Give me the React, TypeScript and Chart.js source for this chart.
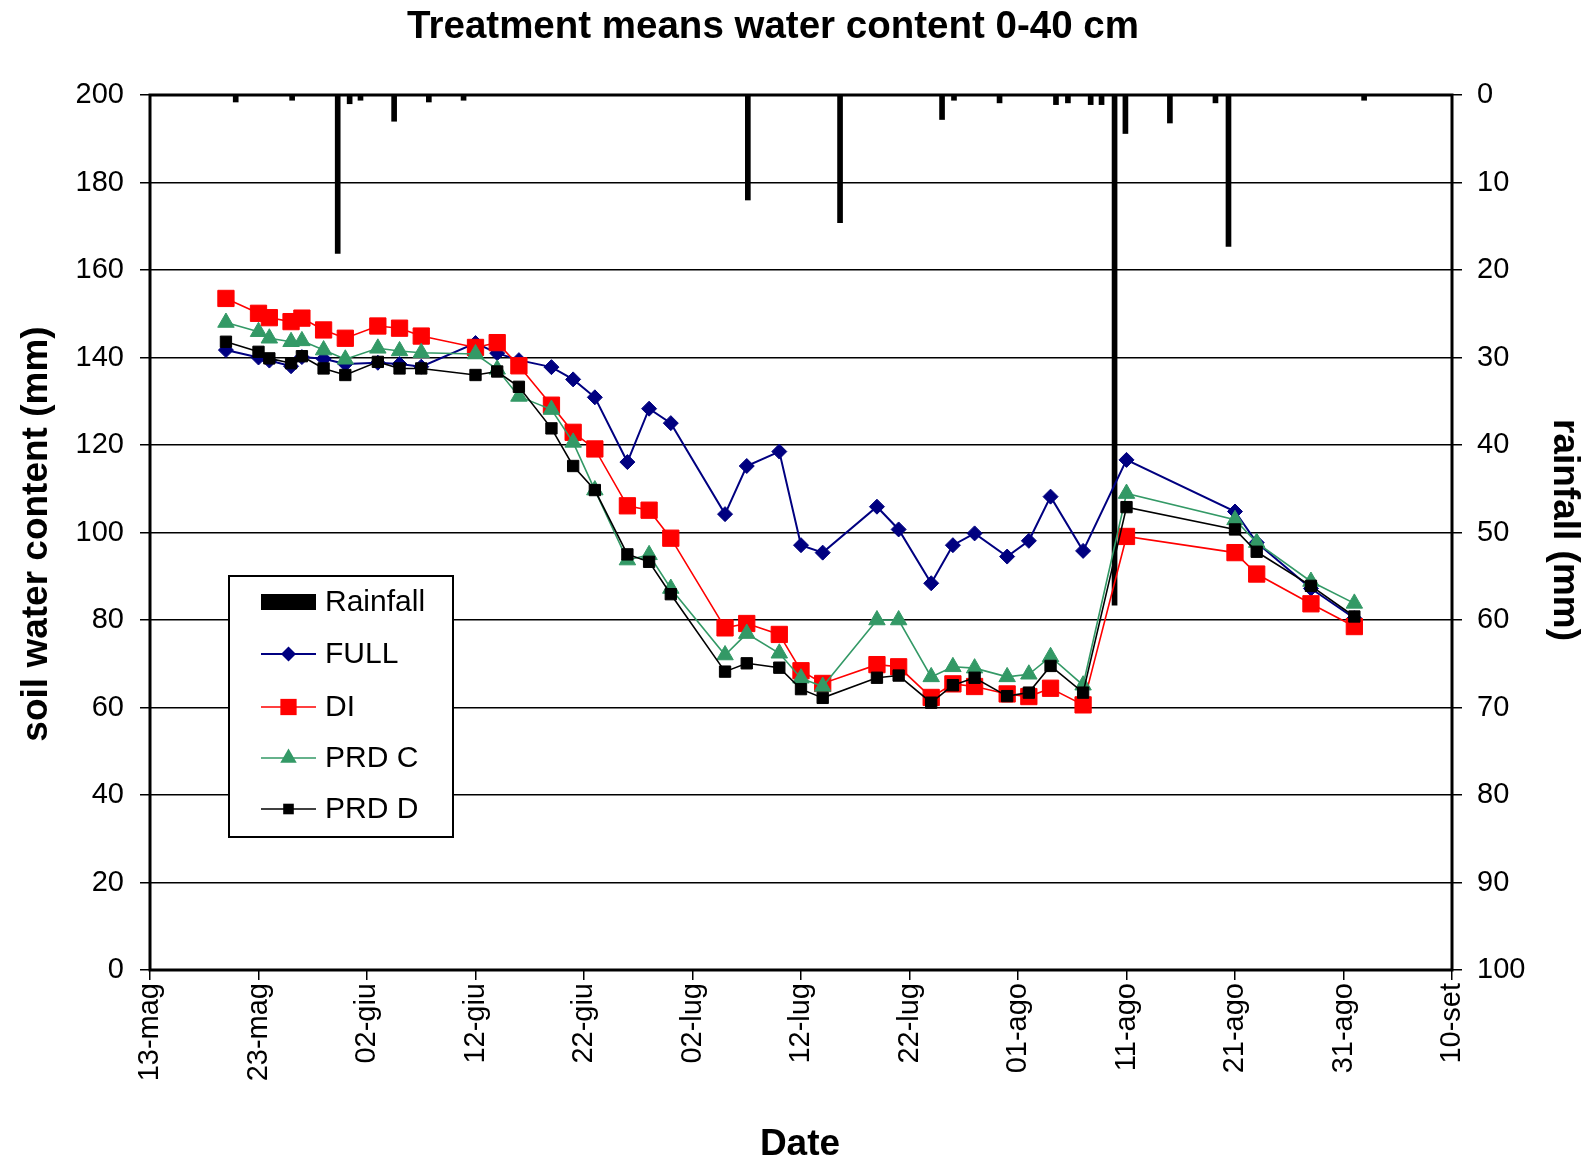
import React, { useEffect, useRef } from 'react';
import { Chart, registerables } from 'chart.js';

Chart.register(...registerables);

// ---- data (x = days after 13 May) ----
const sampleDays = [7, 10, 11, 13, 14, 16, 18, 21, 23, 25, 30, 32, 34, 37, 39, 41, 44, 46, 48, 53, 55, 58, 60, 62, 67, 69, 72, 74, 76, 79, 81, 83, 86, 90, 100, 102, 107, 111];

const fullValues = [141.7, 140.0, 139.3, 138.0, 140.1, 139.7, 138.5, 138.8, 138.5, 137.9, 143.3, 141.0, 139.4, 137.8, 135.0, 130.9, 116.1, 128.3, 125.0, 104.2, 115.2, 118.5, 97.1, 95.4, 105.9, 100.7, 88.4, 97.1, 99.8, 94.5, 98.1, 108.2, 95.8, 116.6, 104.8, 97.7, 87.2, 80.4];

const diValues = [153.5, 150.1, 149.1, 148.2, 149.0, 146.3, 144.4, 147.2, 146.7, 144.9, 142.3, 143.4, 138.1, 129.1, 122.9, 119.1, 106.1, 105.1, 98.7, 78.2, 79.2, 76.7, 68.4, 65.5, 69.8, 69.3, 62.3, 65.4, 64.8, 63.1, 62.5, 64.4, 60.6, 99.1, 95.4, 90.5, 83.7, 78.5];

const prdCValues = [148.0, 145.9, 144.4, 143.6, 143.8, 141.7, 139.6, 142.1, 141.5, 141.1, 140.8, 137.3, 131.1, 128.1, 120.6, 109.7, 93.7, 94.9, 87.2, 72.0, 76.9, 72.4, 66.7, 64.8, 80.0, 80.0, 67.0, 69.3, 69.0, 67.0, 67.6, 71.6, 65.1, 108.9, 102.9, 97.7, 88.8, 83.8];

const prdDValues = [143.6, 141.3, 139.8, 138.7, 140.3, 137.5, 136.0, 139.0, 137.5, 137.5, 136.0, 136.8, 133.3, 123.8, 115.2, 109.7, 95.0, 93.3, 85.9, 68.2, 70.1, 69.1, 64.2, 62.2, 66.8, 67.3, 61.1, 65.1, 66.8, 62.6, 63.4, 69.5, 63.4, 105.8, 100.7, 95.6, 87.8, 80.8];

const rainDays = [7.9, 13.1, 17.3, 18.4, 19.4, 22.5, 25.7, 28.9, 55.1, 63.6, 73.0, 74.1, 78.3, 83.5, 84.6, 86.7, 87.7, 88.9, 89.9, 94.0, 98.2, 99.4, 111.9];
const rainValues = [0.8, 0.6, 18.1, 1.0, 0.6, 3.0, 0.8, 0.6, 12.0, 14.6, 2.8, 0.6, 0.9, 1.1, 0.9, 1.1, 1.1, 58.3, 4.4, 3.2, 0.9, 17.3, 0.6];

const xTickLabels = ['13-mag', '23-mag', '02-giu', '12-giu', '22-giu', '02-lug', '12-lug', '22-lug', '01-ago', '11-ago', '21-ago', '31-ago', '10-set'];

const seriesNames = ['Rainfall', 'FULL', 'DI', 'PRD C', 'PRD D'];
const chartTitle = 'Treatment means water content 0-40 cm';
const yTitle = 'soil water content (mm)';
const y2Title = 'rainfall (mm)';
const xTitle = 'Date';

const FONT = "'Liberation Sans', Arial, Helvetica, sans-serif";
const W = 1592;
const H = 1163;

const NAVY = '#000080';
const RED = '#FF0000';
const GREEN = '#339966';
const BLACK = '#000000';

function toPoints(vals: number[]) {
  return sampleDays.map((d, i) => ({ x: d, y: vals[i] }));
}

function drawMarker(ctx: CanvasRenderingContext2D, style: string, x: number, y: number, r: number, color: string) {
  ctx.save();
  ctx.fillStyle = color;
  ctx.beginPath();
  if (style === 'rectRot') {
    ctx.moveTo(x, y - r);
    ctx.lineTo(x + r, y);
    ctx.lineTo(x, y + r);
    ctx.lineTo(x - r, y);
    ctx.closePath();
  } else if (style === 'rect') {
    const s = r * Math.SQRT1_2;
    ctx.rect(x - s, y - s, 2 * s, 2 * s);
  } else if (style === 'triangle') {
    const e = (3 * r) / Math.sqrt(3);
    const h = (e * Math.sqrt(3)) / 2;
    ctx.moveTo(x - e / 2, y + h / 3);
    ctx.lineTo(x + e / 2, y + h / 3);
    ctx.lineTo(x, y - (2 * h) / 3);
    ctx.closePath();
  }
  ctx.fill();
  ctx.restore();
}

const decorPlugin = {
  id: 'decor',
  afterDatasetsDraw(chart: any) {
    const ctx: CanvasRenderingContext2D = chart.ctx;
    const a = chart.chartArea;
    ctx.save();
    // frame
    ctx.strokeStyle = '#000';
    ctx.lineWidth = 3;
    ctx.strokeRect(a.left, a.top, a.right - a.left, a.bottom - a.top);

    // legend
    const lx = 229, ly = 576, lw = 224, lh = 261;
    ctx.fillStyle = '#fff';
    ctx.fillRect(lx, ly, lw, lh);
    ctx.lineWidth = 2;
    ctx.strokeStyle = '#000';
    ctx.strokeRect(lx, ly, lw, lh);

    const rows = [602, 654, 707, 758, 809];
    const x1 = 261, x2 = 316, mx = 288.5;
    const specs = [
      { color: BLACK, style: 'bar', r: 0, lw: 0 },
      { color: NAVY, style: 'rectRot', r: 7.5, lw: 2 },
      { color: RED, style: 'rect', r: 11.5, lw: 1.6 },
      { color: GREEN, style: 'triangle', r: 9.5, lw: 1.6 },
      { color: BLACK, style: 'rect', r: 7.5, lw: 1.6 },
    ];
    specs.forEach((s, i) => {
      const y = rows[i];
      if (s.style === 'bar') {
        ctx.fillStyle = BLACK;
        ctx.fillRect(x1, y - 8, x2 - x1, 16);
      } else {
        ctx.strokeStyle = s.color;
        ctx.lineWidth = s.lw;
        ctx.beginPath();
        ctx.moveTo(x1, y);
        ctx.lineTo(x2, y);
        ctx.stroke();
        drawMarker(ctx, s.style, mx, y, s.r, s.color);
      }
      ctx.fillStyle = '#000';
      ctx.font = `30px ${FONT}`;
      ctx.textAlign = 'left';
      ctx.textBaseline = 'middle';
      ctx.fillText(seriesNames[i], 325, y + 1);
    });
    ctx.restore();
  },
  afterDraw(chart: any) {
    const ctx: CanvasRenderingContext2D = chart.ctx;
    ctx.save();
    ctx.fillStyle = '#000';
    ctx.textBaseline = 'alphabetic';
    ctx.textAlign = 'center';
    // chart title
    ctx.font = `bold 38.5px ${FONT}`;
    ctx.fillText(chartTitle, 773, 38);
    // x title
    ctx.font = `bold 37px ${FONT}`;
    ctx.fillText(xTitle, 800, 1155);
    // left y title
    ctx.save();
    ctx.translate(47, 534);
    ctx.rotate(-Math.PI / 2);
    ctx.fillText(yTitle, 0, 0);
    ctx.restore();
    // right y title
    ctx.save();
    ctx.translate(1554, 530);
    ctx.rotate(Math.PI / 2);
    ctx.fillText(y2Title, 0, 0);
    ctx.restore();
    ctx.restore();
  },
};

export default function App() {
  const canvasRef = useRef<HTMLCanvasElement | null>(null);

  useEffect(() => {
    const canvas = canvasRef.current;
    if (!canvas) return;

    const tickFont = { family: FONT, size: 29 };

    const lineDs = (label: string, vals: number[], color: string, style: string, r: number, bw: number, order: number) => ({
      type: 'line' as const,
      label,
      data: toPoints(vals),
      borderColor: color,
      backgroundColor: color,
      borderWidth: bw,
      pointStyle: style,
      pointRadius: r,
      pointHoverRadius: r,
      pointBackgroundColor: color,
      pointBorderColor: color,
      pointBorderWidth: 1,
      tension: 0,
      fill: false,
      yAxisID: 'y',
      xAxisID: 'x',
      order,
    });

    const chart = new Chart(canvas, {
      type: 'line',
      data: {
        datasets: [
          {
            type: 'bar' as const,
            label: seriesNames[0],
            data: rainDays.map((d, i) => ({ x: d, y: rainValues[i] })),
            backgroundColor: BLACK,
            borderWidth: 0,
            barThickness: 5,
            yAxisID: 'y2',
            xAxisID: 'x',
            order: 5,
          } as any,
          lineDs(seriesNames[1], fullValues, NAVY, 'rectRot', 7.5, 2, 4),
          lineDs(seriesNames[2], diValues, RED, 'rect', 11.5, 1.6, 3),
          lineDs(seriesNames[3], prdCValues, GREEN, 'triangle', 9.5, 1.6, 2),
          lineDs(seriesNames[4], prdDValues, BLACK, 'rect', 8, 1.6, 1),
        ],
      },
      options: {
        responsive: false,
        maintainAspectRatio: false,
        animation: false,
        devicePixelRatio: 1,
        layout: { padding: { top: 95, left: 0, right: 0, bottom: 0 } },
        plugins: {
          legend: { display: false },
          title: { display: false },
          tooltip: { enabled: false },
        },
        scales: {
          x: {
            type: 'linear',
            min: 0,
            max: 120,
            offset: false,
            afterFit: (s: any) => { s.height = H - 970; },
            ticks: {
              stepSize: 10,
              autoSkip: false,
              minRotation: 90,
              maxRotation: 90,
              padding: 3,
              color: '#000',
              font: tickFont,
              callback: (_v: any, i: number) => xTickLabels[i],
            },
            grid: {
              offset: false,
              drawOnChartArea: false,
              drawTicks: true,
              tickLength: 10,
              color: '#000',
              lineWidth: 1.5,
            },
            border: { display: false },
          },
          y: {
            type: 'linear',
            position: 'left',
            min: 0,
            max: 200,
            afterFit: (s: any) => { s.width = 150; },
            ticks: {
              stepSize: 20,
              padding: 16,
              color: '#000',
              font: tickFont,
            },
            grid: {
              color: '#000',
              lineWidth: 1.5,
              drawTicks: true,
              tickLength: 10,
            },
            border: { display: false },
          },
          y2: {
            type: 'linear',
            position: 'right',
            min: 0,
            max: 100,
            reverse: true,
            afterFit: (s: any) => { s.width = W - 1452; },
            ticks: {
              stepSize: 10,
              padding: 15,
              color: '#000',
              font: tickFont,
            },
            grid: {
              drawOnChartArea: false,
              drawTicks: true,
              tickLength: 10,
              color: '#000',
              lineWidth: 1.5,
            },
            border: { display: false },
          },
        },
      } as any,
      plugins: [decorPlugin],
    });

    return () => {
      chart.destroy();
    };
  }, []);

  return (
    <div style={{ position: 'absolute', top: 0, left: 0, width: W, height: H, background: '#fff' }}>
      <canvas ref={canvasRef} width={W} height={H} style={{ display: 'block' }} />
    </div>
  );
}
